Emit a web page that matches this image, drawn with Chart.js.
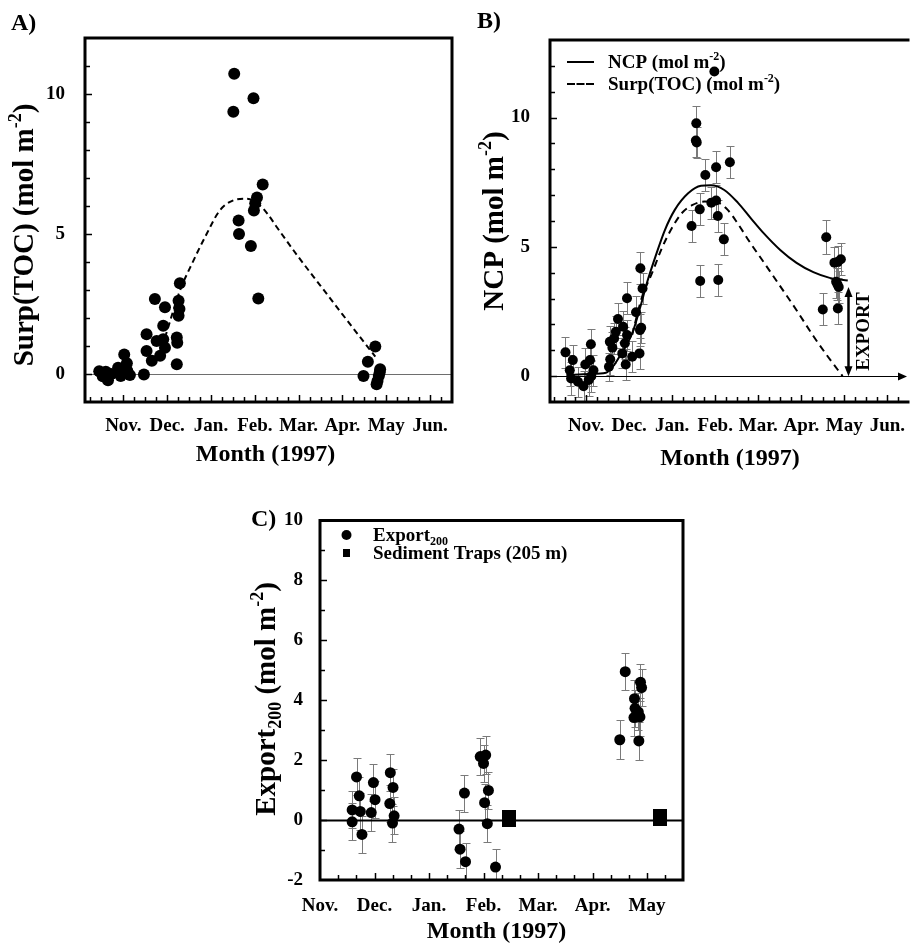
<!DOCTYPE html>
<html>
<head>
<meta charset="utf-8">
<script src="https://cdn.jsdelivr.net/npm/chart.js@4.4.1/dist/chart.umd.min.js"></script>
<style>
  html, body { margin: 0; padding: 0; background: #fff; overflow: hidden; }
  body { width: 913px; height: 944px; position: relative; }
  canvas { position: absolute; }
</style>
</head>
<body>
<canvas id="chartA" width="460" height="470" style="left:0;top:0"></canvas>
<canvas id="chartB" width="453" height="470" style="left:460px;top:0"></canvas>
<canvas id="chartC" width="460" height="444" style="left:240px;top:500px"></canvas>
<script>
/* x is in months after the start of Nov. 1996 */
var monthsAB = ['Nov.', 'Dec.', 'Jan.', 'Feb.', 'Mar.', 'Apr.', 'May', 'Jun.'];
var monthsC  = ['Nov.', 'Dec.', 'Jan.', 'Feb.', 'Mar.', 'Apr.', 'May'];
var yLabelsAB = [0, 5, 10];
var yLabelsC  = [-2, 0, 2, 4, 6, 8, 10];

/* A) Surp(TOC) per cast */
var surpX = [-0.55, -0.47, -0.40, -0.35, -0.28, -0.12, -0.06, 0.02, 0.08, 0.09, 0.15, 0.47,
             0.53, 0.53, 0.65, 0.72, 0.76, 0.84, 0.91, 0.91, 0.95, 0.95, 1.22, 1.22, 1.23, 1.26, 1.28, 1.26, 1.29,
             2.53, 2.51, 2.97, 3.18, 3.05, 3.01, 2.98, 2.63, 2.64, 2.91, 3.08,
             5.75, 5.58, 5.48, 5.86, 5.83, 5.80, 5.78, 5.85];
var surpY = [0.10, -0.08, 0.08, -0.22, 0.00, 0.22, -0.07, 0.70, 0.38, 0.12, -0.04, -0.02,
             1.42, 0.82, 0.47, 2.68, 1.18, 0.65, 1.72, 1.24, 2.38, 0.94, 0.35, 1.30, 1.12, 2.62, 2.32, 2.08, 3.24,
             10.72, 9.37, 9.85, 6.77, 6.30, 6.10, 5.84, 5.48, 5.00, 4.57, 2.70,
             0.98, 0.44, -0.07, 0.17, -0.07, -0.25, -0.37, 0.05];
var surpFitX = [0.95, 1.29, 1.6, 1.9, 2.2, 2.51, 2.82, 3.12, 3.3, 3.5, 4.0, 4.5, 5.0, 5.5, 5.75];
var surpFitY = [1.30, 2.97, 4.05, 5.00, 5.84, 6.20, 6.26, 6.02, 5.70, 5.25, 4.17, 3.15, 2.13, 1.12, 0.62];

/* B) NCP with errors */
var ncpX = [-0.48, -0.38, -0.35, -0.31, -0.19, -0.06, -0.02, 0.06, 0.11, 0.09, 0.17, 0.12,
            0.53, 0.56, 0.55, 0.61, 0.65, 0.69, 0.74, 0.86, 0.90, 0.92, 0.95, 0.95, 0.84, 1.07, 1.16, 1.24, 1.25, 1.28, 1.26, 1.31,
            2.56, 2.55, 2.57, 2.45, 2.64, 2.65, 2.77, 2.91, 3.02, 3.02, 3.06, 3.07, 3.20, 3.34, 2.98,
            5.58, 5.50, 5.77, 5.92, 5.85, 5.81, 5.87, 5.85, 5.84];
var ncpY = [0.92, 0.23, -0.09, 0.62, -0.22, -0.39, 0.45, -0.15, 1.23, 0.62, 0.23, 0.00,
            0.36, 0.65, 1.33, 1.10, 1.46, 1.72, 2.21, 1.91, 1.27, 0.45, 3.01, 1.59, 0.88, 0.75, 2.47, 0.88, 1.78, 1.87, 4.17, 3.39,
            9.78, 9.11, 9.04, 5.81, 6.45, 3.68, 7.78, 6.71, 8.08, 6.79, 6.19, 3.72, 5.29, 8.27, 11.78,
            5.37, 2.58, 4.39, 4.52, 4.42, 3.65, 3.45, 2.62, 3.55];
var ncpErr = [0.60, 0.60, 0.62, 0.60, 0.58, 0.60, 0.62, 0.60, 0.60, 0.62, 0.60, 0.60,
              0.55, 0.60, 0.62, 0.60, 0.60, 0.62, 0.60, 0.60, 0.62, 0.60, 0.62, 0.60, 0.58, 0.60, 0.62, 0.60, 0.62, 0.60, 0.62, 0.60,
              0.65, 0.62, 0.60, 0.62, 0.62, 0.62, 0.62, 0.62, 0.62, 0.62, 0.62, 0.62, 0.62, 0.62, 0,
              0.65, 0.62, 0.62, 0.62, 0.62, 0.62, 0.62, 0.62, 0.62];
var ncpFitX = [-0.46, 0.08, 0.46, 0.65, 0.84, 1.07, 1.26, 1.41, 1.61, 1.83, 2.06, 2.37, 2.67, 2.9, 3.21, 3.52, 3.82, 4.13, 4.51, 4.89, 5.28, 5.66, 6.08];
var ncpFitY = [0.04, 0.08, 0.13, 0.43, 0.94, 1.65, 2.68, 3.59, 4.62, 5.65, 6.43, 7.07, 7.36, 7.38, 7.20, 6.72, 6.12, 5.52, 4.88, 4.38, 4.02, 3.80, 3.70];
var tocFitX = [1.07, 1.3, 1.53, 1.76, 1.99, 2.22, 2.45, 2.75, 3.06, 3.29, 3.52, 3.82, 4.13, 4.5, 4.89, 5.28, 5.62, 5.96];
var tocFitY = [1.60, 3.07, 3.98, 4.95, 5.72, 6.30, 6.60, 6.75, 6.71, 6.43, 5.91, 5.14, 4.40, 3.50, 2.55, 1.55, 0.75, 0.00];
var exportX = 6.09, exportTop = 3.45;

/* C) Export200 and sediment traps */
var expX = [0.59, 0.59, 0.67, 0.72, 0.74, 0.77, 0.94, 0.98, 1.01, 1.29, 1.28, 1.34, 1.36, 1.33,
            2.55, 2.57, 2.65, 2.67, 2.94, 3.00, 3.04, 3.02, 3.07, 3.09, 3.22,
            5.50, 5.60, 5.77, 5.78, 5.76, 5.84, 5.87, 5.85, 5.88, 5.90];
var expY = [0.34, -0.06, 1.44, 0.81, 0.29, -0.48, 0.25, 1.25, 0.68, 1.58, 0.55, 1.09, 0.14, -0.10,
            -0.30, -0.97, 0.90, -1.39, 2.12, 1.89, 2.17, 0.58, -0.12, 0.99, -1.57,
            2.68, 4.95, 4.05, 3.73, 3.42, 3.61, 3.44, 2.64, 4.60, 4.42];
var expErr = [0.62, 0.62, 0.62, 0.62, 0.62, 0.62, 0.62, 0.62, 0.62, 0.62, 0.62, 0.62, 0.62, 0.62,
              0.62, 0.62, 0.62, 0.62, 0.62, 0.62, 0.62, 0.62, 0.62, 0.62, 0.62,
              0.65, 0.62, 0.62, 0.62, 0.62, 0.62, 0.62, 0.62, 0.62, 0.62];
var trapX = [3.47, 6.24];
var trapY = [0.05, 0.09];

var SERIF = '"Liberation Serif", "Times New Roman", serif';
function font(px) { return 'bold ' + px + 'px ' + SERIF; }

function pts(xs, ys) {
  return xs.map(function (x, i) { return { x: x, y: ys[i] }; });
}

/* text runs with super/subscripts: [[text, ''|'sup'|'sub'], ...] */
function richText(ctx, segs, x, y, size, align) {
  var small = Math.round(size * 0.62);
  var widths = segs.map(function (s) {
    ctx.font = font(s[1] ? small : size);
    return ctx.measureText(s[0]).width;
  });
  var total = widths.reduce(function (a, b) { return a + b; }, 0);
  var cx = align === 'center' ? x - total / 2 : x;
  ctx.textAlign = 'left';
  ctx.textBaseline = 'alphabetic';
  segs.forEach(function (s, i) {
    ctx.font = font(s[1] ? small : size);
    var dy = s[1] === 'sup' ? -size * 0.4 : s[1] === 'sub' ? size * 0.22 : 0;
    ctx.fillText(s[0], cx, y + dy);
    cx += widths[i];
  });
}

function vTitle(ctx, segs, x, cy, size) {
  ctx.save();
  ctx.translate(x, cy);
  ctx.rotate(-Math.PI / 2);
  richText(ctx, segs, 0, size * 0.3, size, 'center');
  ctx.restore();
}

function arrowHead(ctx, x, y, dir, len, half) {
  // dir: 'right' | 'up' | 'down'
  ctx.beginPath();
  if (dir === 'right') { ctx.moveTo(x, y); ctx.lineTo(x - len, y - half); ctx.lineTo(x - len, y + half); }
  if (dir === 'up')    { ctx.moveTo(x, y); ctx.lineTo(x - half, y + len); ctx.lineTo(x + half, y + len); }
  if (dir === 'down')  { ctx.moveTo(x, y); ctx.lineTo(x - half, y - len); ctx.lineTo(x + half, y - len); }
  ctx.closePath();
  ctx.fill();
}

/* gray error bars with caps, behind the dots */
var errorBars = {
  id: 'errorBars',
  beforeDatasetsDraw: function (chart) {
    var ctx = chart.ctx, ca = chart.chartArea;
    var xs = chart.scales.x, ys = chart.scales.y;
    ctx.save();
    ctx.beginPath();
    ctx.rect(ca.left, ca.top, ca.right - ca.left, ca.bottom - ca.top);
    ctx.clip();
    ctx.strokeStyle = '#7a7a7a';
    ctx.lineWidth = 1;
    chart.data.datasets.forEach(function (ds) {
      if (!ds.errs) return;
      ds.data.forEach(function (p, i) {
        var e = ds.errs[i];
        if (!e) return;
        var px = Math.round(xs.getPixelForValue(p.x)) + 0.5;
        var y1 = Math.round(ys.getPixelForValue(p.y - e)) + 0.5;
        var y2 = Math.round(ys.getPixelForValue(p.y + e)) + 0.5;
        ctx.beginPath();
        ctx.moveTo(px, y1); ctx.lineTo(px, y2);
        ctx.moveTo(px - 4, y1); ctx.lineTo(px + 4, y1);
        ctx.moveTo(px - 4, y2); ctx.lineTo(px + 4, y2);
        ctx.stroke();
      });
    });
    ctx.restore();
  }
};

/* frame, inward ticks, zero line, titles */
function decor(cfg) {
  return {
    id: 'decor',
    beforeDatasetsDraw: function (chart) {
      var ctx = chart.ctx, ca = chart.chartArea;
      var y0 = Math.round(chart.scales.y.getPixelForValue(0)) + 0.5;
      ctx.save();
      ctx.strokeStyle = cfg.zeroColor;
      ctx.fillStyle = cfg.zeroColor;
      ctx.lineWidth = cfg.zeroWidth;
      ctx.beginPath();
      ctx.moveTo(ca.left, y0);
      ctx.lineTo(ca.right - (cfg.zeroArrow ? 4 : 0), y0);
      ctx.stroke();
      if (cfg.zeroArrow) arrowHead(ctx, ca.right - 1, y0, 'right', 9, 4);
      ctx.restore();
    },
    afterDraw: function (chart) {
      var ctx = chart.ctx, ca = chart.chartArea;
      var xs = chart.scales.x, ys = chart.scales.y;
      ctx.save();
      ctx.strokeStyle = '#000';
      ctx.fillStyle = '#000';

      // inward tick marks
      ctx.lineWidth = 1.5;
      var v, px, k;
      for (k = Math.ceil(xs.min / cfg.xStep - 1e-6); k * cfg.xStep < xs.max - 1e-6; k++) {
        v = k * cfg.xStep;
        if (v <= xs.min + 1e-6) continue;
        px = Math.round(xs.getPixelForValue(v)) + 0.5;
        var major = Math.abs(v - Math.round(v)) < 1e-6;
        ctx.beginPath();
        ctx.moveTo(px, ca.bottom);
        ctx.lineTo(px, ca.bottom - (major ? 7 : 5));
        ctx.stroke();
      }
      for (v = Math.ceil(ys.min) + 1; v < ys.max; v++) {
        px = Math.round(ys.getPixelForValue(v)) + 0.5;
        ctx.beginPath();
        ctx.moveTo(ca.left, px);
        ctx.lineTo(ca.left + (cfg.yLabels.indexOf(v) >= 0 ? 7 : 5), px);
        ctx.stroke();
      }

      // frame
      ctx.lineWidth = 3;
      ctx.lineCap = 'square';
      ctx.beginPath();
      if (cfg.sides.indexOf('left') >= 0)   { ctx.moveTo(ca.left, ca.top); ctx.lineTo(ca.left, ca.bottom); }
      if (cfg.sides.indexOf('bottom') >= 0) { ctx.moveTo(ca.left, ca.bottom); ctx.lineTo(ca.right, ca.bottom); }
      if (cfg.sides.indexOf('top') >= 0)    { ctx.moveTo(ca.left, ca.top); ctx.lineTo(ca.right, ca.top); }
      if (cfg.sides.indexOf('right') >= 0)  { ctx.moveTo(ca.right, ca.top); ctx.lineTo(ca.right, ca.bottom); }
      ctx.stroke();

      // titles and panel tag
      vTitle(ctx, cfg.yTitle, cfg.yTitleX, cfg.yTitleY, 29);
      richText(ctx, [['Month (1997)', '']], (ca.left + ca.right) / 2 + cfg.xTitleDx, ca.bottom + cfg.xTitleDy, 24, 'center');
      richText(ctx, [[cfg.tag, '']], cfg.tagX, cfg.tagY, 24, 'left');

      if (cfg.extra) cfg.extra(chart, ctx);
      ctx.restore();
    }
  };
}

function makeOptions(o) {
  return {
    responsive: false,
    animation: false,
    events: [],
    layout: { padding: o.pad },
    plugins: { legend: { display: false }, tooltip: { enabled: false } },
    scales: {
      x: {
        type: 'linear', min: o.xMin, max: o.xMax,
        grid: { display: false }, border: { display: false },
        afterBuildTicks: function (s) { s.ticks = o.months.map(function (m, i) { return { value: i }; }); },
        afterFit: function (s) { s.height = o.xH; },
        ticks: {
          autoSkip: false, maxRotation: 0, minRotation: 0, padding: o.xPad,
          color: '#000', font: { family: SERIF, size: 19, weight: 'bold' },
          callback: function (v) { return o.months[Math.round(v)]; }
        }
      },
      y: {
        type: 'linear', min: o.yMin, max: o.yMax,
        grid: { display: false }, border: { display: false },
        afterBuildTicks: function (s) { s.ticks = o.yLabels.map(function (v) { return { value: v }; }); },
        afterFit: function (s) { s.width = o.yW; },
        ticks: {
          padding: o.yPad, color: '#000', font: { family: SERIF, size: 19, weight: 'bold' },
          callback: function (v) { return String(v); }
        }
      }
    }
  };
}

/* ---- A) Surp(TOC) ---- */
new Chart(document.getElementById('chartA'), {
  type: 'scatter',
  data: {
    datasets: [
      { data: pts(surpX, surpY), backgroundColor: '#000', borderWidth: 0, pointRadius: 6 },
      { type: 'line', data: pts(surpFitX, surpFitY), borderColor: '#000', borderWidth: 2, borderDash: [6, 4],
        pointRadius: 0, fill: false, cubicInterpolationMode: 'monotone' }
    ]
  },
  options: makeOptions({ pad: { top: 38, right: 8, left: 0, bottom: 0 }, xMin: -0.875, xMax: 7.5, yMin: -1, yMax: 12,
                         months: monthsAB, yLabels: yLabelsAB, xH: 68, yW: 85, xPad: 5, yPad: 12 }),
  plugins: [decor({
    sides: ['left', 'top', 'right', 'bottom'], xStep: 0.25, yLabels: yLabelsAB,
    zeroColor: '#6e6e6e', zeroWidth: 1, zeroArrow: false,
    yTitle: [['Surp(TOC) (mol m', ''], ['-2', 'sup'], [')', '']], yTitleX: 24, yTitleY: 235,
    xTitleDx: -3, xTitleDy: 59, tag: 'A)', tagX: 11, tagY: 30
  })]
});

/* ---- B) NCP ---- */
new Chart(document.getElementById('chartB'), {
  type: 'scatter',
  data: {
    datasets: [
      { data: pts(ncpX, ncpY), errs: ncpErr, backgroundColor: '#000', borderWidth: 0, pointRadius: 5 },
      { type: 'line', data: pts(ncpFitX, ncpFitY), borderColor: '#000', borderWidth: 2,
        pointRadius: 0, fill: false, cubicInterpolationMode: 'monotone' },
      { type: 'line', data: pts(tocFitX, tocFitY), borderColor: '#000', borderWidth: 2, borderDash: [7, 5],
        pointRadius: 0, fill: false, cubicInterpolationMode: 'monotone' }
    ]
  },
  options: makeOptions({ pad: { top: 40, right: 0, left: 0, bottom: 0 }, xMin: -0.84, xMax: 7.48, yMin: -1, yMax: 13,
                         months: monthsAB, yLabels: yLabelsAB, xH: 68, yW: 90, xPad: 5, yPad: 12 }),
  plugins: [errorBars, decor({
    sides: ['left', 'top', 'bottom'], xStep: 0.25, yLabels: yLabelsAB,
    zeroColor: '#000', zeroWidth: 1.2, zeroArrow: true,
    yTitle: [['NCP (mol m', ''], ['-2', 'sup'], [')', '']], yTitleX: 34, yTitleY: 221,
    xTitleDx: 1, xTitleDy: 63, tag: 'B)', tagX: 17, tagY: 28,
    extra: function (chart, ctx) {
      var xs = chart.scales.x, ys = chart.scales.y;
      // EXPORT arrow between the two curves' end points
      var ax = Math.round(xs.getPixelForValue(exportX)) + 0.5;
      var yb = ys.getPixelForValue(0), yt = ys.getPixelForValue(exportTop);
      ctx.lineWidth = 2.5;
      ctx.beginPath();
      ctx.moveTo(ax, yb - 8); ctx.lineTo(ax, yt + 8);
      ctx.stroke();
      arrowHead(ctx, ax, yt, 'up', 10, 4);
      arrowHead(ctx, ax, yb, 'down', 10, 4);
      ctx.save();
      ctx.translate(ax + 14, (yb + yt) / 2);
      ctx.rotate(-Math.PI / 2);
      richText(ctx, [['EXPORT', '']], 0, 6.5, 19, 'center');
      ctx.restore();

      // legend
      ctx.lineWidth = 2;
      ctx.beginPath(); ctx.moveTo(108, 62); ctx.lineTo(133, 62); ctx.stroke();
      ctx.setLineDash([6, 3.5]);
      ctx.beginPath(); ctx.moveTo(108, 84); ctx.lineTo(133, 84); ctx.stroke();
      ctx.setLineDash([]);
      richText(ctx, [['NCP (mol m', ''], ['-2', 'sup'], [')', '']], 148, 68, 19, 'left');
      richText(ctx, [['Surp(TOC) (mol m', ''], ['-2', 'sup'], [')', '']], 148, 90, 19, 'left');
    }
  })]
});

/* ---- C) Export200 ---- */
var trapMark = document.createElement('canvas');
trapMark.width = 14; trapMark.height = 17;
(function (c) { c.fillStyle = '#000'; c.fillRect(0, 0, 14, 17); })(trapMark.getContext('2d'));

new Chart(document.getElementById('chartC'), {
  type: 'scatter',
  data: {
    datasets: [
      { data: pts(expX, expY), errs: expErr, backgroundColor: '#000', borderWidth: 0, pointRadius: 5.5 },
      { data: pts(trapX, trapY), pointStyle: trapMark, pointRadius: 8, backgroundColor: '#000' }
    ]
  },
  options: makeOptions({ pad: { top: 19, right: 17, left: 0, bottom: 0 }, xMin: 0, xMax: 6.66, yMin: -2, yMax: 10,
                         months: monthsC, yLabels: yLabelsC, xH: 64, yW: 80, xPad: 7, yPad: 9 }),
  plugins: [errorBars, decor({
    sides: ['left', 'top', 'right', 'bottom'], xStep: 1 / 3, yLabels: yLabelsC,
    zeroColor: '#000', zeroWidth: 2, zeroArrow: false,
    yTitle: [['Export', ''], ['200', 'sub'], [' (mol m', ''], ['-2', 'sup'], [')', '']], yTitleX: 26, yTitleY: 199,
    xTitleDx: -5, xTitleDy: 58, tag: 'C)', tagX: 11, tagY: 26,
    extra: function (chart, ctx) {
      ctx.beginPath();
      ctx.arc(106.5, 35, 5, 0, Math.PI * 2);
      ctx.fill();
      ctx.fillRect(103, 49, 7, 8);
      richText(ctx, [['Export', ''], ['200', 'sub']], 133, 41, 19, 'left');
      richText(ctx, [['Sediment Traps (205 m)', '']], 133, 59, 19, 'left');
    }
  })]
});
</script>
</body>
</html>
